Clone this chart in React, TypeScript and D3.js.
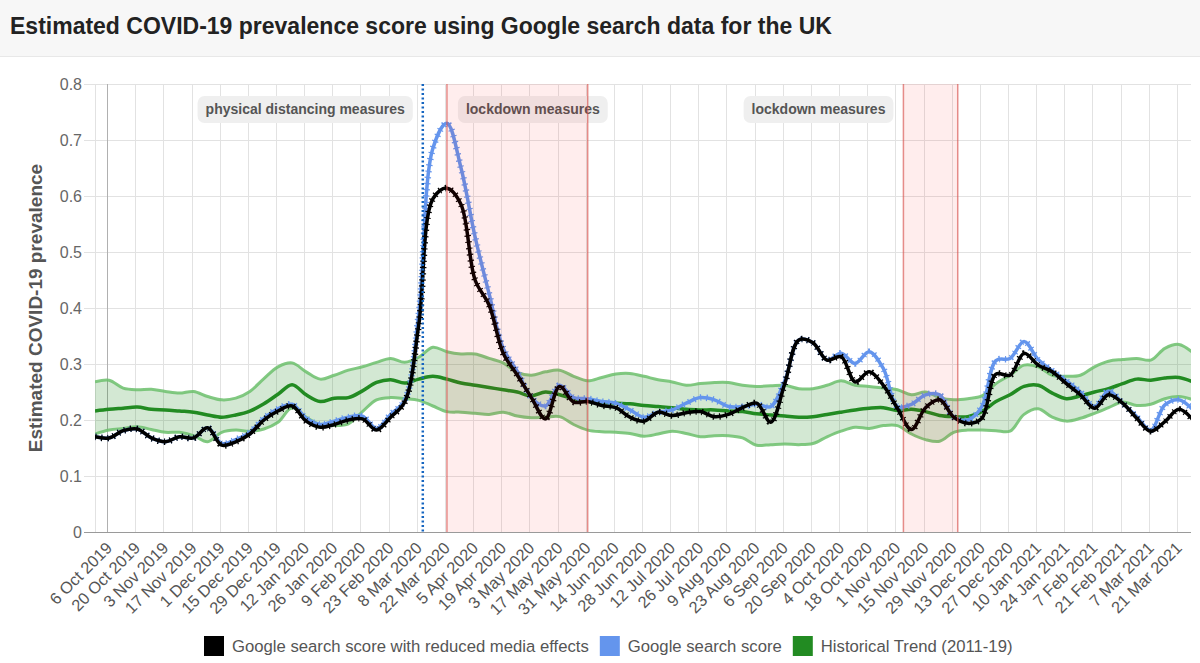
import { useEffect, useRef } from "react";
import * as d3 from "d3";

const WIDTH = 1200;
const HEIGHT = 663;
const FONT = "'Liberation Sans', Arial, Helvetica, sans-serif";

// weekly samples, 30 Sep 2019 .. 29 Mar 2021
const weeks = d3.utcDay.range(new Date(Date.UTC(2019, 8, 30)), new Date(Date.UTC(2021, 2, 30)), 7);

const reducedMedia = [
  0.17, 0.168, 0.181, 0.184, 0.168, 0.161, 0.17, 0.168, 0.186, 0.155,
  0.161, 0.175, 0.2, 0.216, 0.225, 0.198, 0.187, 0.192, 0.2, 0.202,
  0.182, 0.205, 0.232, 0.37, 0.595, 0.614, 0.585, 0.45, 0.405, 0.319,
  0.28, 0.24, 0.202, 0.26, 0.232, 0.233, 0.226, 0.222, 0.205, 0.198,
  0.214, 0.208, 0.213, 0.215, 0.206, 0.21, 0.222, 0.23, 0.196, 0.265,
  0.343, 0.338, 0.307, 0.313, 0.268, 0.286, 0.262, 0.221, 0.183, 0.222,
  0.236, 0.205, 0.194, 0.203, 0.282, 0.28, 0.319, 0.298, 0.286, 0.265,
  0.245, 0.221, 0.245, 0.23, 0.203, 0.18, 0.197, 0.219, 0.2,
];

const searchScore = [
  0.17, 0.168, 0.181, 0.184, 0.168, 0.161, 0.17, 0.168, 0.186, 0.158,
  0.165, 0.178, 0.203, 0.22, 0.228, 0.203, 0.192, 0.198, 0.205, 0.207,
  0.185, 0.21, 0.235, 0.39, 0.685, 0.73, 0.65, 0.527, 0.425, 0.328,
  0.287, 0.24, 0.225, 0.262, 0.24, 0.238, 0.233, 0.23, 0.218, 0.205,
  0.214, 0.218, 0.23, 0.24, 0.236, 0.224, 0.224, 0.228, 0.224, 0.27,
  0.343, 0.338, 0.307, 0.319, 0.301, 0.322, 0.292, 0.224, 0.228, 0.245,
  0.245, 0.205, 0.2, 0.224, 0.306, 0.31, 0.34, 0.308, 0.288, 0.27,
  0.25, 0.224, 0.252, 0.23, 0.206, 0.182, 0.227, 0.236, 0.218,
];

const trend = [
  0.216, 0.219, 0.221, 0.223, 0.219, 0.218, 0.216, 0.214, 0.209, 0.205,
  0.209, 0.216, 0.229, 0.246, 0.263, 0.245, 0.233, 0.239, 0.24, 0.252,
  0.267, 0.272, 0.266, 0.273, 0.278, 0.273, 0.266, 0.262, 0.258, 0.254,
  0.25, 0.243, 0.25, 0.245, 0.238, 0.235, 0.232, 0.23, 0.229, 0.226,
  0.224, 0.222, 0.219, 0.218, 0.218, 0.216, 0.215, 0.211, 0.209, 0.207,
  0.205, 0.206, 0.21, 0.214, 0.218, 0.221, 0.222, 0.217, 0.219, 0.215,
  0.208, 0.206, 0.206, 0.215, 0.233, 0.245, 0.26, 0.262, 0.248, 0.238,
  0.243, 0.25, 0.256, 0.265, 0.273, 0.271, 0.275, 0.276, 0.268,
];

const trendUpper = [
  0.268, 0.271, 0.257, 0.254, 0.255, 0.251, 0.248, 0.251, 0.242, 0.236,
  0.239, 0.251, 0.274, 0.295, 0.302, 0.286, 0.273, 0.28, 0.289, 0.295,
  0.303, 0.31, 0.303, 0.312, 0.33, 0.322, 0.318, 0.318, 0.31, 0.302,
  0.285, 0.28, 0.286, 0.289, 0.278, 0.27, 0.276, 0.282, 0.283, 0.278,
  0.272, 0.268, 0.262, 0.265, 0.267, 0.267, 0.262, 0.26, 0.261, 0.262,
  0.256, 0.256, 0.262, 0.27, 0.262, 0.26, 0.257, 0.254, 0.245, 0.25,
  0.24, 0.236, 0.238, 0.243, 0.265, 0.28, 0.298, 0.295, 0.28, 0.278,
  0.28, 0.295, 0.305, 0.308, 0.31, 0.307, 0.328, 0.335, 0.32,
];

const trendLower = [
  0.175, 0.182, 0.185, 0.188, 0.183, 0.178, 0.178, 0.172, 0.161, 0.178,
  0.182, 0.18, 0.184, 0.196, 0.222, 0.205, 0.192, 0.19, 0.193, 0.215,
  0.236, 0.24, 0.238, 0.235, 0.225, 0.215, 0.214, 0.212, 0.21, 0.214,
  0.207, 0.204, 0.205, 0.206, 0.192, 0.182, 0.179, 0.178, 0.176, 0.171,
  0.175, 0.18, 0.176, 0.17, 0.172, 0.172, 0.168, 0.155, 0.156, 0.157,
  0.156, 0.158, 0.17, 0.18, 0.187, 0.185, 0.19, 0.19, 0.175, 0.165,
  0.162, 0.178, 0.182, 0.182, 0.181, 0.18, 0.21, 0.22, 0.205, 0.198,
  0.203, 0.212, 0.222, 0.232, 0.226, 0.228, 0.238, 0.242, 0.236,
];

const yTicks = [0, 0.1, 0.2, 0.3, 0.4, 0.5, 0.6, 0.7, 0.8];
const xTicks = d3.utcDay.range(new Date(Date.UTC(2019, 9, 6)), new Date(Date.UTC(2021, 2, 22)), 14);

const distancingDate = new Date(Date.UTC(2020, 2, 11));
const lockdowns = [
  [new Date(Date.UTC(2020, 2, 23)), new Date(Date.UTC(2020, 5, 1))],
  [new Date(Date.UTC(2020, 10, 5)), new Date(Date.UTC(2020, 11, 2))],
];
const annotations = [
  { label: "physical distancing measures", date: distancingDate, side: "left" },
  { label: "lockdown measures", date: lockdowns[0][0], side: "right" },
  { label: "lockdown measures", date: lockdowns[1][0], side: "left" },
];

const legendItems = [
  { label: "Google search score with reduced media effects", color: "#000000" },
  { label: "Google search score", color: "#6495ED" },
  { label: "Historical Trend (2011-19)", color: "#228B22" },
];

const App = () => {
  const ref = useRef<SVGSVGElement>(null);

  useEffect(() => {
    const svg = d3.select(ref.current);
    svg.selectAll("*").remove();
    svg.attr("font-family", FONT);

    const left = 95, right = 1191, top = 84, bottom = 532;

    const x = d3
      .scaleUtc()
      .domain([new Date(Date.UTC(2019, 8, 30)), new Date(Date.UTC(2021, 2, 28))])
      .range([left, right]);
    const y = d3.scaleLinear().domain([0, 0.8]).range([bottom, top]);

    // header
    svg.append("rect").attr("width", WIDTH).attr("height", 56).attr("fill", "#f7f7f7");
    svg.append("line").attr("x1", 0).attr("x2", WIDTH).attr("y1", 56.5).attr("y2", 56.5).attr("stroke", "#e8e8e8");
    svg
      .append("text")
      .attr("x", 10)
      .attr("y", 34)
      .attr("font-size", 23)
      .attr("font-weight", "bold")
      .attr("fill", "#222")
      .text("Estimated COVID-19 prevalence score using Google search data for the UK");

    // grid
    const grid = svg.append("g");
    yTicks.forEach((t) => {
      grid
        .append("line")
        .attr("x1", 84)
        .attr("x2", right)
        .attr("y1", Math.round(y(t)) + 0.5)
        .attr("y2", Math.round(y(t)) + 0.5)
        .attr("stroke", t === 0 ? "#9a9a9a" : "#e2e2e2");
      svg
        .append("text")
        .attr("x", 82)
        .attr("y", y(t))
        .attr("dy", "0.35em")
        .attr("text-anchor", "end")
        .attr("font-size", 16)
        .attr("fill", "#666")
        .text(t === 0 ? "0" : t.toFixed(1));
    });
    grid
      .append("line")
      .attr("x1", left + 0.5)
      .attr("x2", left + 0.5)
      .attr("y1", top)
      .attr("y2", bottom)
      .attr("stroke", "#e2e2e2");
    xTicks.forEach((t, i) => {
      const xp = Math.round(x(t)) + 0.5;
      grid
        .append("line")
        .attr("x1", xp)
        .attr("x2", xp)
        .attr("y1", top)
        .attr("y2", bottom)
        .attr("stroke", i === 0 ? "#b0b0b0" : "#e2e2e2");
      svg
        .append("text")
        .attr("transform", `translate(${x(t) + 2},${bottom + 13}) rotate(-45)`)
        .attr("text-anchor", "end")
        .attr("dy", "0.35em")
        .attr("font-size", 16.4)
        .attr("fill", "#555")
        .text(d3.utcFormat("%-d %b %Y")(t));
    });

    // y axis title
    svg
      .append("text")
      .attr("transform", `translate(42,${(top + bottom) / 2}) rotate(-90)`)
      .attr("text-anchor", "middle")
      .attr("font-size", 19)
      .attr("font-weight", "bold")
      .attr("fill", "#555")
      .text("Estimated COVID-19 prevalence");

    svg
      .append("clipPath")
      .attr("id", "plot-clip")
      .append("rect")
      .attr("x", left)
      .attr("y", top - 10)
      .attr("width", right - left)
      .attr("height", bottom - top + 10);

    const plot = svg.append("g").attr("clip-path", "url(#plot-clip)");

    // historical band
    const area = d3
      .area<number>()
      .x((_, i) => x(weeks[i]))
      .y0((_, i) => y(trendLower[i]))
      .y1((d) => y(d))
      .curve(d3.curveCatmullRom);
    plot.append("path").datum(trendUpper).attr("d", area).attr("fill", "#228B22").attr("fill-opacity", 0.2);

    const line = d3
      .line<number>()
      .x((_, i) => x(weeks[i]))
      .y((d) => y(d))
      .curve(d3.curveCatmullRom);

    [trendUpper, trendLower].forEach((s) => {
      plot
        .append("path")
        .datum(s)
        .attr("d", line)
        .attr("fill", "none")
        .attr("stroke", "#6cbf6c")
        .attr("stroke-opacity", 0.85)
        .attr("stroke-width", 3);
    });
    plot
      .append("path")
      .datum(trend)
      .attr("d", line)
      .attr("fill", "none")
      .attr("stroke", "#228B22")
      .attr("stroke-width", 3.5);

    [
      { data: searchScore, color: "#6495ED" },
      { data: reducedMedia, color: "#000000" },
    ].forEach((s) => {
      plot
        .append("path")
        .datum(s.data)
        .attr("d", line)
        .attr("fill", "none")
        .attr("stroke", s.color)
        .attr("stroke-width", 3.5)
        .attr("stroke-linejoin", "round");
      // point markers
      plot
        .append("path")
        .datum(s.data)
        .attr("d", line)
        .attr("fill", "none")
        .attr("stroke", s.color)
        .attr("stroke-width", 6.5)
        .attr("stroke-dasharray", "1.2 5");
    });

    // annotation labels
    annotations.forEach((a) => {
      const g = svg.append("g");
      const txt = g
        .append("text")
        .attr("y", 109)
        .attr("dy", "0.35em")
        .attr("font-size", 14)
        .attr("font-weight", "bold")
        .attr("fill", "#555")
        .text(a.label);
      const w = (txt.node() as SVGTextElement).getComputedTextLength() + 16;
      const lx = a.side === "left" ? x(a.date) - 10 - w : x(a.date) + 11;
      g.insert("rect", "text")
        .attr("x", lx)
        .attr("y", 96)
        .attr("width", w)
        .attr("height", 27)
        .attr("rx", 7)
        .attr("fill", "#efefef");
      txt.attr("x", lx + 8);
    });

    // lockdown shading
    lockdowns.forEach(([a, b]) => {
      svg
        .append("rect")
        .attr("x", x(a))
        .attr("y", top)
        .attr("width", x(b) - x(a))
        .attr("height", bottom - top)
        .attr("fill", "#ff0000")
        .attr("fill-opacity", 0.07);
      [a, b].forEach((d) => {
        svg
          .append("line")
          .attr("x1", x(d))
          .attr("x2", x(d))
          .attr("y1", top)
          .attr("y2", bottom)
          .attr("stroke", "#d9534f")
          .attr("stroke-opacity", 0.65)
          .attr("stroke-width", 1.5);
      });
    });

    svg
      .append("line")
      .attr("x1", x(distancingDate))
      .attr("x2", x(distancingDate))
      .attr("y1", top)
      .attr("y2", bottom)
      .attr("stroke", "#1565c0")
      .attr("stroke-width", 2.5)
      .attr("stroke-dasharray", "2 2.5");

    // legend
    const legend = svg.append("g");
    let lx = 204;
    legendItems.forEach((item) => {
      legend.append("rect").attr("x", lx).attr("y", 636).attr("width", 20).attr("height", 20).attr("fill", item.color);
      const t = legend
        .append("text")
        .attr("x", lx + 28)
        .attr("y", 646)
        .attr("dy", "0.35em")
        .attr("font-size", 16.7)
        .attr("fill", "#555")
        .text(item.label);
      lx += 28 + (t.node() as SVGTextElement).getComputedTextLength() + 11;
    });
  }, []);

  return (
    <svg
      ref={ref}
      width={WIDTH}
      height={HEIGHT}
      style={{ position: "absolute", left: 0, top: 0, background: "#fff" }}
    />
  );
};

export default App;
